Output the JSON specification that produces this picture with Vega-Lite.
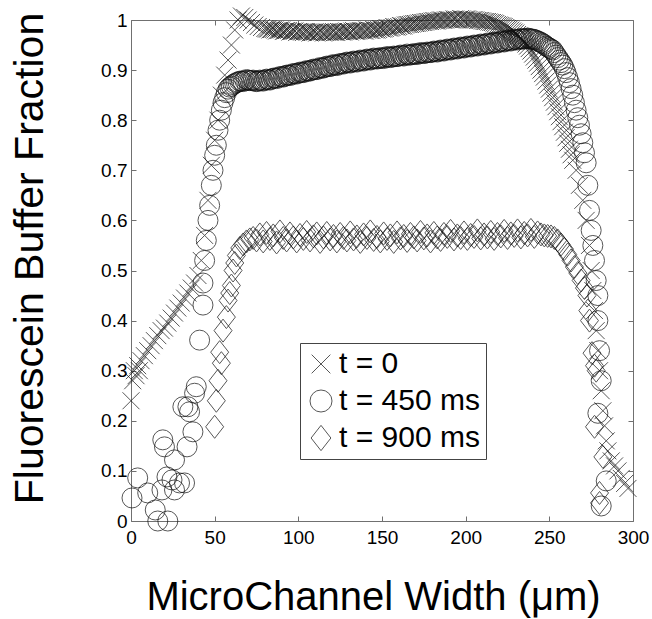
{
"$schema": "https://vega.github.io/schema/vega-lite/v6.json",
"width": 502, "height": 501,
"autosize": {"type": "none"},
"padding": {"left": 131, "top": 20, "right": 19, "bottom": 98},
"background": "white",
"config": {"view": {"stroke": null}, "font": "Liberation Sans"},
"data": {"values": [
{"t":"a","x":0,"y":0.24},{"t":"a","x":1,"y":0.28},{"t":"a","x":2,"y":0.30},{"t":"a","x":3,"y":0.29},{"t":"a","x":4,"y":0.31},{"t":"a","x":5,"y":0.30},{"t":"a","x":6,"y":0.32},{"t":"a","x":8,"y":0.33},{"t":"a","x":10,"y":0.34},{"t":"a","x":12,"y":0.35},{"t":"a","x":14,"y":0.36},{"t":"a","x":16,"y":0.37},{"t":"a","x":18,"y":0.38},{"t":"a","x":20,"y":0.385},{"t":"a","x":22,"y":0.395},{"t":"a","x":24,"y":0.405},{"t":"a","x":26,"y":0.415},{"t":"a","x":28,"y":0.425},{"t":"a","x":30,"y":0.435},{"t":"a","x":32,"y":0.445},{"t":"a","x":34,"y":0.455},{"t":"a","x":36,"y":0.465},{"t":"a","x":38,"y":0.475},{"t":"a","x":40,"y":0.49},{"t":"a","x":42,"y":0.52},{"t":"a","x":44,"y":0.57},{"t":"a","x":46,"y":0.64},{"t":"a","x":48,"y":0.71},{"t":"a","x":50,"y":0.76},{"t":"a","x":52,"y":0.80},{"t":"a","x":54,"y":0.85},{"t":"a","x":56,"y":0.89},{"t":"a","x":58,"y":0.92},{"t":"a","x":60,"y":0.95},{"t":"a","x":62,"y":0.98},{"t":"a","x":64,"y":1.0},{"t":"a","x":66,"y":1.008},{"t":"a","x":68,"y":1.005},{"t":"a","x":70,"y":1.0},{"t":"a","x":72,"y":0.995},{"t":"a","x":74,"y":0.99},{"t":"a","x":76,"y":0.987},{"t":"a","x":78,"y":0.985},{"t":"a","x":80,"y":0.983},
{"t":"a","x":82,"y":0.982},{"t":"a","x":84,"y":0.981},{"t":"a","x":86,"y":0.98},{"t":"a","x":88,"y":0.979},{"t":"a","x":90,"y":0.98},{"t":"a","x":92,"y":0.978},{"t":"a","x":94,"y":0.979},{"t":"a","x":96,"y":0.977},{"t":"a","x":98,"y":0.978},{"t":"a","x":100,"y":0.977},{"t":"a","x":102,"y":0.976},{"t":"a","x":104,"y":0.977},{"t":"a","x":106,"y":0.976},{"t":"a","x":108,"y":0.975},{"t":"a","x":110,"y":0.976},{"t":"a","x":112,"y":0.975},{"t":"a","x":114,"y":0.976},{"t":"a","x":116,"y":0.975},{"t":"a","x":118,"y":0.976},{"t":"a","x":120,"y":0.976},{"t":"a","x":122,"y":0.975},{"t":"a","x":124,"y":0.977},{"t":"a","x":126,"y":0.976},{"t":"a","x":128,"y":0.977},{"t":"a","x":130,"y":0.977},{"t":"a","x":132,"y":0.978},{"t":"a","x":134,"y":0.977},{"t":"a","x":136,"y":0.978},{"t":"a","x":138,"y":0.979},{"t":"a","x":140,"y":0.978},{"t":"a","x":142,"y":0.98},{"t":"a","x":144,"y":0.979},{"t":"a","x":146,"y":0.98},{"t":"a","x":148,"y":0.981},{"t":"a","x":150,"y":0.982},{"t":"a","x":152,"y":0.983},{"t":"a","x":154,"y":0.984},{"t":"a","x":156,"y":0.985},{"t":"a","x":158,"y":0.986},{"t":"a","x":160,"y":0.987},{"t":"a","x":162,"y":0.988},{"t":"a","x":164,"y":0.99},{"t":"a","x":166,"y":0.991},{"t":"a","x":168,"y":0.992},{"t":"a","x":170,"y":0.993},{"t":"a","x":172,"y":0.994},{"t":"a","x":174,"y":0.995},{"t":"a","x":176,"y":0.996},{"t":"a","x":178,"y":0.997},{"t":"a","x":180,"y":0.998},{"t":"a","x":182,"y":0.998},{"t":"a","x":184,"y":0.999},{"t":"a","x":186,"y":1.0},{"t":"a","x":188,"y":1.0},{"t":"a","x":190,"y":1.001},{"t":"a","x":192,"y":1.0},{"t":"a","x":194,"y":1.002},{"t":"a","x":196,"y":1.001},{"t":"a","x":198,"y":1.002},{"t":"a","x":200,"y":1.002},{"t":"a","x":202,"y":1.001},{"t":"a","x":204,"y":1.0},{"t":"a","x":206,"y":1.0},{"t":"a","x":208,"y":0.999},{"t":"a","x":210,"y":0.998},{"t":"a","x":212,"y":0.997},{"t":"a","x":214,"y":0.996},{"t":"a","x":216,"y":0.995},{"t":"a","x":218,"y":0.993},{"t":"a","x":220,"y":0.99},{"t":"a","x":222,"y":0.988},{"t":"a","x":224,"y":0.985},{"t":"a","x":226,"y":0.982},{"t":"a","x":228,"y":0.978},{"t":"a","x":230,"y":0.974},{"t":"a","x":232,"y":0.968},{"t":"a","x":234,"y":0.96},{"t":"a","x":236,"y":0.952},{"t":"a","x":238,"y":0.943},{"t":"a","x":240,"y":0.932},{"t":"a","x":242,"y":0.92},{"t":"a","x":244,"y":0.907},{"t":"a","x":246,"y":0.893},{"t":"a","x":248,"y":0.878},{"t":"a","x":250,"y":0.862},{"t":"a","x":252,"y":0.845},{"t":"a","x":254,"y":0.827},{"t":"a","x":256,"y":0.807},{"t":"a","x":258,"y":0.787},{"t":"a","x":260,"y":0.765},{"t":"a","x":262,"y":0.742},{"t":"a","x":264,"y":0.72},{"t":"a","x":266,"y":0.70},{"t":"a","x":268,"y":0.67},{"t":"a","x":270,"y":0.64},{"t":"a","x":272,"y":0.60},{"t":"a","x":274,"y":0.55},{"t":"a","x":275,"y":0.50},{"t":"a","x":276,"y":0.46},{"t":"a","x":277,"y":0.42},{"t":"a","x":278,"y":0.38},{"t":"a","x":279,"y":0.34},{"t":"a","x":280,"y":0.30},{"t":"a","x":281,"y":0.26},{"t":"a","x":282,"y":0.22},{"t":"a","x":283,"y":0.19},{"t":"a","x":284,"y":0.16},{"t":"a","x":285,"y":0.14},{"t":"a","x":287,"y":0.12},{"t":"a","x":289,"y":0.11},{"t":"a","x":291,"y":0.10},{"t":"a","x":293,"y":0.085},{"t":"a","x":295,"y":0.075},{"t":"a","x":297,"y":0.065},
{"t":"a","x":81,"y":0.982},{"t":"a","x":83,"y":0.98},{"t":"a","x":85,"y":0.981},{"t":"a","x":87,"y":0.978},{"t":"a","x":89,"y":0.98},{"t":"a","x":91,"y":0.977},{"t":"a","x":93,"y":0.979},{"t":"a","x":95,"y":0.976},{"t":"a","x":97,"y":0.978},{"t":"a","x":99,"y":0.975},{"t":"a","x":101,"y":0.977},{"t":"a","x":103,"y":0.975},{"t":"a","x":105,"y":0.977},{"t":"a","x":107,"y":0.974},{"t":"a","x":109,"y":0.976},{"t":"a","x":111,"y":0.974},{"t":"a","x":113,"y":0.977},{"t":"a","x":115,"y":0.974},{"t":"a","x":117,"y":0.976},{"t":"a","x":119,"y":0.975},{"t":"a","x":121,"y":0.977},{"t":"a","x":123,"y":0.975},{"t":"a","x":125,"y":0.977},{"t":"a","x":127,"y":0.976},{"t":"a","x":129,"y":0.978},{"t":"a","x":131,"y":0.976},{"t":"a","x":133,"y":0.979},{"t":"a","x":135,"y":0.977},{"t":"a","x":137,"y":0.979},{"t":"a","x":139,"y":0.978},{"t":"a","x":141,"y":0.98},{"t":"a","x":143,"y":0.979},{"t":"a","x":145,"y":0.981},{"t":"a","x":147,"y":0.98},{"t":"a","x":149,"y":0.983},{"t":"a","x":151,"y":0.982},{"t":"a","x":153,"y":0.985},{"t":"a","x":155,"y":0.984},{"t":"a","x":157,"y":0.987},{"t":"a","x":159,"y":0.986},{"t":"a","x":161,"y":0.989},{"t":"a","x":163,"y":0.988},{"t":"a","x":165,"y":0.991},{"t":"a","x":167,"y":0.991},{"t":"a","x":169,"y":0.993},{"t":"a","x":171,"y":0.993},{"t":"a","x":173,"y":0.995},{"t":"a","x":175,"y":0.995},{"t":"a","x":177,"y":0.997},{"t":"a","x":179,"y":0.997},{"t":"a","x":181,"y":0.999},{"t":"a","x":183,"y":0.998},{"t":"a","x":185,"y":1.0},{"t":"a","x":187,"y":0.999},{"t":"a","x":189,"y":1.001},{"t":"a","x":191,"y":1.0},{"t":"a","x":193,"y":1.002},{"t":"a","x":195,"y":1.0},{"t":"a","x":197,"y":1.003},{"t":"a","x":199,"y":1.001},{"t":"a","x":201,"y":1.002},{"t":"a","x":203,"y":1.0},{"t":"a","x":205,"y":1.001},{"t":"a","x":207,"y":0.999},{"t":"a","x":209,"y":0.999},{"t":"a","x":211,"y":0.997},{"t":"a","x":213,"y":0.997},{"t":"a","x":215,"y":0.995},{"t":"a","x":217,"y":0.994},{"t":"a","x":219,"y":0.991},{"t":"a","x":221,"y":0.989},{"t":"a","x":223,"y":0.987},{"t":"a","x":225,"y":0.983},{"t":"a","x":227,"y":0.98},{"t":"a","x":229,"y":0.976},{"t":"a","x":231,"y":0.971},{"t":"a","x":233,"y":0.964},{"t":"a","x":235,"y":0.956},{"t":"a","x":237,"y":0.948},{"t":"a","x":239,"y":0.938},{"t":"a","x":241,"y":0.926},{"t":"a","x":243,"y":0.914},{"t":"a","x":245,"y":0.9},{"t":"a","x":247,"y":0.886},{"t":"a","x":249,"y":0.87},{"t":"a","x":251,"y":0.854},{"t":"a","x":253,"y":0.836},{"t":"a","x":255,"y":0.817},{"t":"a","x":257,"y":0.797},{"t":"a","x":259,"y":0.776},{"t":"a","x":261,"y":0.754},{"t":"a","x":263,"y":0.731},
{"t":"b","x":0.6,"y":0.046},{"t":"b","x":4,"y":0.086},{"t":"b","x":10,"y":0.056},{"t":"b","x":14.5,"y":0.022},{"t":"b","x":16,"y":0.0},{"t":"b","x":22,"y":0.0},{"t":"b","x":19,"y":0.162},{"t":"b","x":20,"y":0.148},{"t":"b","x":18.5,"y":0.062},{"t":"b","x":21.5,"y":0.088},{"t":"b","x":24.5,"y":0.082},{"t":"b","x":26,"y":0.062},{"t":"b","x":26,"y":0.122},{"t":"b","x":29,"y":0.076},{"t":"b","x":32,"y":0.076},{"t":"b","x":31,"y":0.228},{"t":"b","x":34,"y":0.228},{"t":"b","x":35,"y":0.218},{"t":"b","x":33.5,"y":0.148},{"t":"b","x":37,"y":0.178},{"t":"b","x":39,"y":0.268},{"t":"b","x":38,"y":0.255},{"t":"b","x":41,"y":0.361},{"t":"b","x":43,"y":0.431},{"t":"b","x":43,"y":0.475},
{"t":"b","x":44,"y":0.52},{"t":"b","x":45,"y":0.56},{"t":"b","x":46,"y":0.60},{"t":"b","x":47,"y":0.63},{"t":"b","x":48,"y":0.67},{"t":"b","x":49,"y":0.70},{"t":"b","x":50,"y":0.73},{"t":"b","x":51,"y":0.75},{"t":"b","x":52,"y":0.78},{"t":"b","x":53,"y":0.80},{"t":"b","x":54,"y":0.82},{"t":"b","x":55,"y":0.835},{"t":"b","x":56,"y":0.845},{"t":"b","x":57,"y":0.855},{"t":"b","x":58,"y":0.862},{"t":"b","x":60,"y":0.868},{"t":"b","x":62,"y":0.873},{"t":"b","x":64,"y":0.876},{"t":"b","x":66,"y":0.878},{"t":"b","x":68,"y":0.879},{"t":"b","x":70,"y":0.88},{"t":"b","x":72,"y":0.879},{"t":"b","x":74,"y":0.878},{"t":"b","x":76,"y":0.878},{"t":"b","x":78,"y":0.879},{"t":"b","x":80,"y":0.88},{"t":"b","x":82,"y":0.881},{"t":"b","x":84,"y":0.882},{"t":"b","x":86,"y":0.884},{"t":"b","x":88,"y":0.885},{"t":"b","x":90,"y":0.887},{"t":"b","x":92,"y":0.888},{"t":"b","x":94,"y":0.89},{"t":"b","x":96,"y":0.891},{"t":"b","x":98,"y":0.893},{"t":"b","x":100,"y":0.894},{"t":"b","x":102,"y":0.895},{"t":"b","x":104,"y":0.897},{"t":"b","x":106,"y":0.898},{"t":"b","x":108,"y":0.9},{"t":"b","x":110,"y":0.901},{"t":"b","x":112,"y":0.903},{"t":"b","x":114,"y":0.904},{"t":"b","x":116,"y":0.906},{"t":"b","x":118,"y":0.907},{"t":"b","x":120,"y":0.909},{"t":"b","x":122,"y":0.91},{"t":"b","x":124,"y":0.911},{"t":"b","x":126,"y":0.913},{"t":"b","x":128,"y":0.914},{"t":"b","x":130,"y":0.915},{"t":"b","x":132,"y":0.916},{"t":"b","x":134,"y":0.917},{"t":"b","x":136,"y":0.918},{"t":"b","x":138,"y":0.919},{"t":"b","x":140,"y":0.92},{"t":"b","x":142,"y":0.921},{"t":"b","x":144,"y":0.922},{"t":"b","x":146,"y":0.923},{"t":"b","x":148,"y":0.923},{"t":"b","x":150,"y":0.924},{"t":"b","x":152,"y":0.925},{"t":"b","x":154,"y":0.926},{"t":"b","x":156,"y":0.926},{"t":"b","x":158,"y":0.927},{"t":"b","x":160,"y":0.928},{"t":"b","x":162,"y":0.929},{"t":"b","x":164,"y":0.93},{"t":"b","x":166,"y":0.93},{"t":"b","x":168,"y":0.931},{"t":"b","x":170,"y":0.932},{"t":"b","x":172,"y":0.933},{"t":"b","x":174,"y":0.934},{"t":"b","x":176,"y":0.934},{"t":"b","x":178,"y":0.935},{"t":"b","x":180,"y":0.936},{"t":"b","x":182,"y":0.937},{"t":"b","x":184,"y":0.938},{"t":"b","x":186,"y":0.939},{"t":"b","x":188,"y":0.94},{"t":"b","x":190,"y":0.941},{"t":"b","x":192,"y":0.942},{"t":"b","x":194,"y":0.943},{"t":"b","x":196,"y":0.944},{"t":"b","x":198,"y":0.945},{"t":"b","x":200,"y":0.946},{"t":"b","x":202,"y":0.947},{"t":"b","x":204,"y":0.948},{"t":"b","x":206,"y":0.949},{"t":"b","x":208,"y":0.95},{"t":"b","x":210,"y":0.951},{"t":"b","x":212,"y":0.952},{"t":"b","x":214,"y":0.953},{"t":"b","x":216,"y":0.954},{"t":"b","x":218,"y":0.955},{"t":"b","x":220,"y":0.956},{"t":"b","x":222,"y":0.957},{"t":"b","x":224,"y":0.958},{"t":"b","x":226,"y":0.959},{"t":"b","x":228,"y":0.96},{"t":"b","x":230,"y":0.961},{"t":"b","x":232,"y":0.962},{"t":"b","x":234,"y":0.962},{"t":"b","x":236,"y":0.963},{"t":"b","x":238,"y":0.963},{"t":"b","x":240,"y":0.962},{"t":"b","x":242,"y":0.96},{"t":"b","x":244,"y":0.957},{"t":"b","x":246,"y":0.953},{"t":"b","x":248,"y":0.948},{"t":"b","x":250,"y":0.944},{"t":"b","x":252,"y":0.94},{"t":"b","x":254,"y":0.93},{"t":"b","x":256,"y":0.92},{"t":"b","x":258,"y":0.91},{"t":"b","x":260,"y":0.895},{"t":"b","x":262,"y":0.875},{"t":"b","x":264,"y":0.85},{"t":"b","x":266,"y":0.82},{"t":"b","x":268,"y":0.79},{"t":"b","x":270,"y":0.755},{"t":"b","x":272,"y":0.715},{"t":"b","x":273,"y":0.67},{"t":"b","x":274,"y":0.62},{"t":"b","x":275,"y":0.58},{"t":"b","x":276,"y":0.55},{"t":"b","x":277,"y":0.52},{"t":"b","x":278,"y":0.48},{"t":"b","x":279,"y":0.45},{"t":"b","x":279,"y":0.40},{"t":"b","x":280,"y":0.34},{"t":"b","x":281,"y":0.28},{"t":"b","x":279,"y":0.215},{"t":"b","x":284,"y":0.08},{"t":"b","x":281,"y":0.03},
{"t":"b","x":59,"y":0.866},{"t":"b","x":61,"y":0.871},{"t":"b","x":63,"y":0.875},{"t":"b","x":65,"y":0.878},{"t":"b","x":67,"y":0.877},{"t":"b","x":69,"y":0.881},{"t":"b","x":71,"y":0.879},{"t":"b","x":73,"y":0.88},{"t":"b","x":75,"y":0.877},{"t":"b","x":77,"y":0.88},{"t":"b","x":79,"y":0.878},{"t":"b","x":81,"y":0.882},{"t":"b","x":83,"y":0.88},{"t":"b","x":85,"y":0.884},{"t":"b","x":87,"y":0.883},{"t":"b","x":89,"y":0.887},{"t":"b","x":91,"y":0.886},{"t":"b","x":93,"y":0.89},{"t":"b","x":95,"y":0.889},{"t":"b","x":97,"y":0.893},{"t":"b","x":99,"y":0.892},{"t":"b","x":101,"y":0.896},{"t":"b","x":103,"y":0.895},{"t":"b","x":105,"y":0.899},{"t":"b","x":107,"y":0.898},{"t":"b","x":109,"y":0.902},{"t":"b","x":111,"y":0.901},{"t":"b","x":113,"y":0.905},{"t":"b","x":115,"y":0.904},{"t":"b","x":117,"y":0.908},{"t":"b","x":119,"y":0.907},{"t":"b","x":121,"y":0.911},{"t":"b","x":123,"y":0.909},{"t":"b","x":125,"y":0.913},{"t":"b","x":127,"y":0.912},{"t":"b","x":129,"y":0.916},{"t":"b","x":131,"y":0.914},{"t":"b","x":133,"y":0.918},{"t":"b","x":135,"y":0.916},{"t":"b","x":137,"y":0.92},{"t":"b","x":139,"y":0.918},{"t":"b","x":141,"y":0.922},{"t":"b","x":143,"y":0.92},{"t":"b","x":145,"y":0.924},{"t":"b","x":147,"y":0.922},{"t":"b","x":149,"y":0.925},{"t":"b","x":151,"y":0.923},{"t":"b","x":153,"y":0.927},{"t":"b","x":155,"y":0.925},{"t":"b","x":157,"y":0.928},{"t":"b","x":159,"y":0.927},{"t":"b","x":161,"y":0.93},{"t":"b","x":163,"y":0.928},{"t":"b","x":165,"y":0.932},{"t":"b","x":167,"y":0.93},{"t":"b","x":169,"y":0.933},{"t":"b","x":171,"y":0.931},{"t":"b","x":173,"y":0.935},{"t":"b","x":175,"y":0.933},{"t":"b","x":177,"y":0.936},{"t":"b","x":179,"y":0.935},{"t":"b","x":181,"y":0.938},{"t":"b","x":183,"y":0.936},{"t":"b","x":185,"y":0.94},{"t":"b","x":187,"y":0.938},{"t":"b","x":189,"y":0.942},{"t":"b","x":191,"y":0.94},{"t":"b","x":193,"y":0.944},{"t":"b","x":195,"y":0.942},{"t":"b","x":197,"y":0.946},{"t":"b","x":199,"y":0.944},{"t":"b","x":201,"y":0.948},{"t":"b","x":203,"y":0.946},{"t":"b","x":205,"y":0.95},{"t":"b","x":207,"y":0.948},{"t":"b","x":209,"y":0.952},{"t":"b","x":211,"y":0.95},{"t":"b","x":213,"y":0.954},{"t":"b","x":215,"y":0.952},{"t":"b","x":217,"y":0.956},{"t":"b","x":219,"y":0.954},{"t":"b","x":221,"y":0.958},{"t":"b","x":223,"y":0.956},{"t":"b","x":225,"y":0.96},{"t":"b","x":227,"y":0.958},{"t":"b","x":229,"y":0.962},{"t":"b","x":231,"y":0.96},{"t":"b","x":233,"y":0.963},{"t":"b","x":235,"y":0.962},{"t":"b","x":237,"y":0.964},{"t":"b","x":239,"y":0.962},{"t":"b","x":241,"y":0.961},{"t":"b","x":243,"y":0.958},{"t":"b","x":245,"y":0.955},{"t":"b","x":247,"y":0.951},{"t":"b","x":249,"y":0.946},{"t":"b","x":251,"y":0.942},{"t":"b","x":253,"y":0.935},{"t":"b","x":255,"y":0.925},{"t":"b","x":257,"y":0.915},{"t":"b","x":259,"y":0.903},{"t":"b","x":261,"y":0.885},{"t":"b","x":263,"y":0.863},{"t":"b","x":265,"y":0.835},{"t":"b","x":267,"y":0.805},{"t":"b","x":269,"y":0.773},{"t":"b","x":271,"y":0.735},
{"t":"c","x":50,"y":0.188},{"t":"c","x":51,"y":0.24},{"t":"c","x":52,"y":0.28},{"t":"c","x":53,"y":0.337},{"t":"c","x":54,"y":0.315},{"t":"c","x":55,"y":0.38},{"t":"c","x":57,"y":0.407},{"t":"c","x":58,"y":0.44},{"t":"c","x":59,"y":0.455},{"t":"c","x":60,"y":0.47},{"t":"c","x":61,"y":0.5},{"t":"c","x":62,"y":0.515},{"t":"c","x":63,"y":0.53},{"t":"c","x":65,"y":0.545},{"t":"c","x":67,"y":0.552},{"t":"c","x":69,"y":0.558},{"t":"c","x":71,"y":0.562},{"t":"c","x":73,"y":0.565},
{"t":"c","x":75,"y":0.56},{"t":"c","x":77,"y":0.572},{"t":"c","x":79,"y":0.558},{"t":"c","x":81,"y":0.575},{"t":"c","x":83,"y":0.563},{"t":"c","x":85,"y":0.57},{"t":"c","x":87,"y":0.556},{"t":"c","x":89,"y":0.578},{"t":"c","x":91,"y":0.565},{"t":"c","x":93,"y":0.56},{"t":"c","x":95,"y":0.574},{"t":"c","x":97,"y":0.566},{"t":"c","x":99,"y":0.558},{"t":"c","x":101,"y":0.571},{"t":"c","x":103,"y":0.563},{"t":"c","x":105,"y":0.577},{"t":"c","x":107,"y":0.56},{"t":"c","x":109,"y":0.568},{"t":"c","x":111,"y":0.574},{"t":"c","x":113,"y":0.557},{"t":"c","x":115,"y":0.566},{"t":"c","x":117,"y":0.575},{"t":"c","x":119,"y":0.562},{"t":"c","x":121,"y":0.569},{"t":"c","x":123,"y":0.558},{"t":"c","x":125,"y":0.573},{"t":"c","x":127,"y":0.565},{"t":"c","x":129,"y":0.56},{"t":"c","x":131,"y":0.576},{"t":"c","x":133,"y":0.562},{"t":"c","x":135,"y":0.568},{"t":"c","x":137,"y":0.557},{"t":"c","x":139,"y":0.572},{"t":"c","x":141,"y":0.565},{"t":"c","x":143,"y":0.578},{"t":"c","x":145,"y":0.561},{"t":"c","x":147,"y":0.567},{"t":"c","x":149,"y":0.558},{"t":"c","x":151,"y":0.574},{"t":"c","x":153,"y":0.563},{"t":"c","x":155,"y":0.57},{"t":"c","x":157,"y":0.557},{"t":"c","x":159,"y":0.576},{"t":"c","x":161,"y":0.564},{"t":"c","x":163,"y":0.569},{"t":"c","x":165,"y":0.559},{"t":"c","x":167,"y":0.573},{"t":"c","x":169,"y":0.566},{"t":"c","x":171,"y":0.56},{"t":"c","x":173,"y":0.577},{"t":"c","x":175,"y":0.564},{"t":"c","x":177,"y":0.57},{"t":"c","x":179,"y":0.558},{"t":"c","x":181,"y":0.575},{"t":"c","x":183,"y":0.566},{"t":"c","x":185,"y":0.561},{"t":"c","x":187,"y":0.573},{"t":"c","x":189,"y":0.567},{"t":"c","x":191,"y":0.579},{"t":"c","x":193,"y":0.562},{"t":"c","x":195,"y":0.57},{"t":"c","x":197,"y":0.565},{"t":"c","x":199,"y":0.576},{"t":"c","x":201,"y":0.563},{"t":"c","x":203,"y":0.571},{"t":"c","x":205,"y":0.567},{"t":"c","x":207,"y":0.58},{"t":"c","x":209,"y":0.564},{"t":"c","x":211,"y":0.572},{"t":"c","x":213,"y":0.566},{"t":"c","x":215,"y":0.577},{"t":"c","x":217,"y":0.563},{"t":"c","x":219,"y":0.573},{"t":"c","x":221,"y":0.568},{"t":"c","x":223,"y":0.579},{"t":"c","x":225,"y":0.565},{"t":"c","x":227,"y":0.574},{"t":"c","x":229,"y":0.569},{"t":"c","x":231,"y":0.58},{"t":"c","x":233,"y":0.566},{"t":"c","x":235,"y":0.575},{"t":"c","x":237,"y":0.57},{"t":"c","x":239,"y":0.581},{"t":"c","x":241,"y":0.567},{"t":"c","x":243,"y":0.576},{"t":"c","x":245,"y":0.572},{"t":"c","x":247,"y":0.57},{"t":"c","x":249,"y":0.569},{"t":"c","x":251,"y":0.568},{"t":"c","x":253,"y":0.565},{"t":"c","x":255,"y":0.56},{"t":"c","x":257,"y":0.552},{"t":"c","x":259,"y":0.543},{"t":"c","x":261,"y":0.532},{"t":"c","x":263,"y":0.52},{"t":"c","x":265,"y":0.507},{"t":"c","x":267,"y":0.495},{"t":"c","x":269,"y":0.48},{"t":"c","x":271,"y":0.465},{"t":"c","x":272.5,"y":0.45},{"t":"c","x":273,"y":0.42},{"t":"c","x":274,"y":0.40},{"t":"c","x":275.5,"y":0.335},{"t":"c","x":277,"y":0.31},{"t":"c","x":278,"y":0.30},{"t":"c","x":277,"y":0.188},{"t":"c","x":282,"y":0.128},{"t":"c","x":280,"y":0.056},{"t":"c","x":280,"y":0.036}
]},
"layer": [
{
"mark": {"type": "point", "filled": false, "strokeWidth": 1, "color": "#111", "size": 400},
"encoding": {
"x": {"field": "x", "type": "quantitative", "scale": {"domain": [0, 300], "nice": false, "zero": false},
 "axis": {"orient": "bottom", "values": [0, 50, 100, 150, 200, 250, 300], "grid": false, "tickSize": -5, "labelPadding": 12, "domainColor": "#707070", "tickColor": "#707070", "labelFontSize": 19, "labelColor": "black", "labelFont": "Liberation Sans", "labelFlush": false,
  "title": "MicroChannel Width (μm)", "titleFontSize": 40, "titleFontWeight": "normal", "titleColor": "black", "titleFont": "Liberation Sans", "titleBaseline": "alphabetic", "titleX": 242, "titleY": 88}},
"y": {"field": "y", "type": "quantitative", "scale": {"domain": [0, 1], "nice": false, "zero": false},
 "axis": {"orient": "left", "values": [0, 0.1, 0.2, 0.3, 0.4, 0.5, 0.6, 0.7, 0.8, 0.9, 1], "format": "~g", "grid": false, "tickSize": -5, "labelPadding": 9, "domainColor": "#707070", "tickColor": "#707070", "labelFontSize": 19, "labelColor": "black", "labelFont": "Liberation Sans", "labelFlush": false,
  "title": "Fluorescein Buffer Fraction", "titleFontSize": 41, "titleFontWeight": "normal", "titleColor": "black", "titleFont": "Liberation Sans", "titleAngle": -90, "titleBaseline": "alphabetic", "titleAlign": "center", "titleX": -89, "titleY": 238}},
"shape": {"field": "t", "type": "nominal",
 "scale": {"domain": ["a", "b", "c"], "range": ["M-0.85,-0.85L0.85,0.85M-0.85,0.85L0.85,-0.85", "circle", "M0,-1.15L0.9,0L0,1.15L-0.9,0Z"]},
 "legend": {"orient": "none", "legendX": 169, "legendY": 323, "title": null,
  "labelExpr": "datum.label == 'a' ? 't = 0' : datum.label == 'b' ? 't = 450 ms' : 't = 900 ms'",
  "labelFontSize": 30, "labelFont": "Liberation Sans", "labelColor": "black", "labelOffset": 3,
  "symbolSize": 484, "symbolStrokeWidth": 1, "symbolStrokeColor": "#111", "symbolFillColor": "transparent",
  "strokeColor": "#444", "fillColor": "white", "padding": 6, "rowPadding": 7}}
}
},
{
"mark": {"type": "point", "opacity": 0},
"encoding": {
"x": {"field": "x", "type": "quantitative", "axis": {"orient": "top", "values": [0, 50, 100, 150, 200, 250, 300], "grid": false, "labels": false, "title": null, "tickSize": -5, "domainColor": "#707070", "tickColor": "#707070"}},
"y": {"field": "y", "type": "quantitative", "axis": {"orient": "right", "values": [0, 0.1, 0.2, 0.3, 0.4, 0.5, 0.6, 0.7, 0.8, 0.9, 1], "grid": false, "labels": false, "title": null, "tickSize": -5, "domainColor": "#707070", "tickColor": "#707070"}}
}
}
],
"resolve": {"axis": {"x": "independent", "y": "independent"}}
}
